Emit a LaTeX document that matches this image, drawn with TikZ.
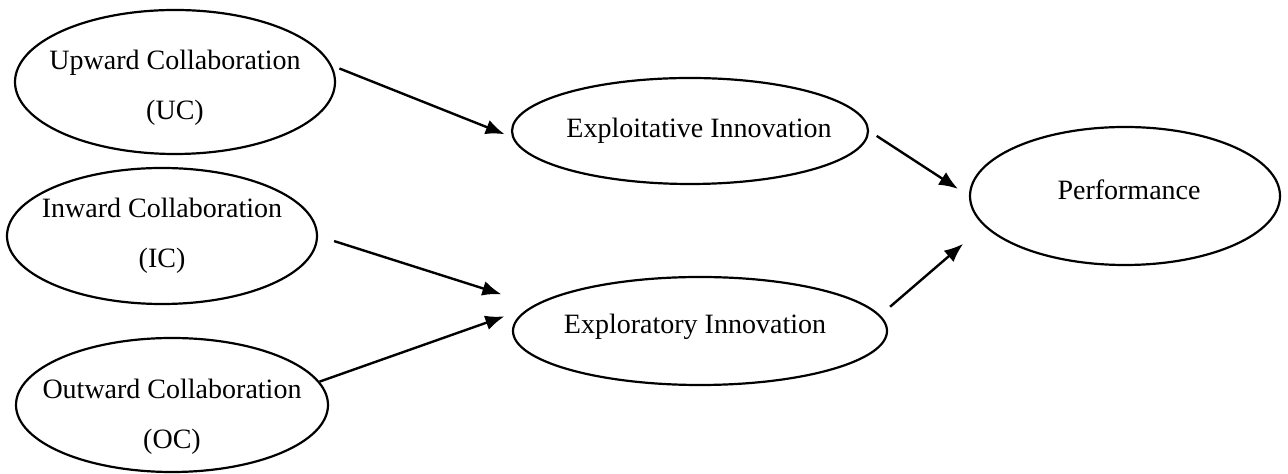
\documentclass[tikz,border=0pt]{standalone}
\usepackage{fontspec}
\setmainfont{Liberation Serif}
\usetikzlibrary{shapes.geometric,arrows.meta}
\tikzset{
  >={Latex[length=9.5pt,width=7.5pt]},
  oval/.style 2 args={ellipse, draw, line width=1.1pt, inner sep=0pt,
                minimum width=#1, minimum height=#2},
  caption/.style={align=center, inner sep=0pt,
                font=\fontsize{14}{25}\selectfont},
  link/.style={->, line width=1.2pt},
}
\begin{document}
\begin{tikzpicture}[x=0.5pt,y=-0.5pt]
  \useasboundingbox (0,0) rectangle (1288,474);
  % collaboration
  \node[oval={160pt}{72pt},
        label={[caption,name=uctext,yshift=-3pt]center:{Upward Collaboration\\(UC)}}]
        (uc) at (175,82) {};
  \node[oval={155pt}{68pt},
        label={[caption,name=ictext]center:{Inward Collaboration\\(IC)}}]
        (ic) at (162,236) {};
  \node[oval={156pt}{67pt},
        label={[caption,name=octext,yshift=-6pt]center:{Outward Collaboration\\(OC)}}]
        (oc) at (172,405) {};
  % innovation
  \node[oval={178pt}{53pt},
        label={[caption,name=exploittext,xshift=4.5pt]center:Exploitative Innovation}]
        (exploit) at (690,131) {};
  \node[oval={187pt}{54pt},
        label={[caption,name=exploretext,xshift=-2.5pt,yshift=2pt]center:Exploratory Innovation}]
        (explore) at (700,331) {};
  \node[oval={155pt}{69pt},
        label={[caption,name=perftext,xshift=2pt,yshift=3pt]center:Performance}]
        (perf) at (1125,196) {};
  % paths
  \draw[link, shorten <=4pt, shorten >=4pt] (uc.6) -- (exploit.182);
  \draw[link, shorten <=8.4pt, shorten >=17.4pt] (ic.east) -- (explore.171.2);
  \draw[link, shorten >=13.8pt] (oc.9) -- (explore.172.2);
  \draw[link, shorten <=4.5pt, shorten >=6.5pt] (exploit.east) -- (perf.west);
  \draw[link, shorten <=6.5pt, shorten >=13.7pt] (explore.5) -- (perf.192);
\end{tikzpicture}
\end{document}
